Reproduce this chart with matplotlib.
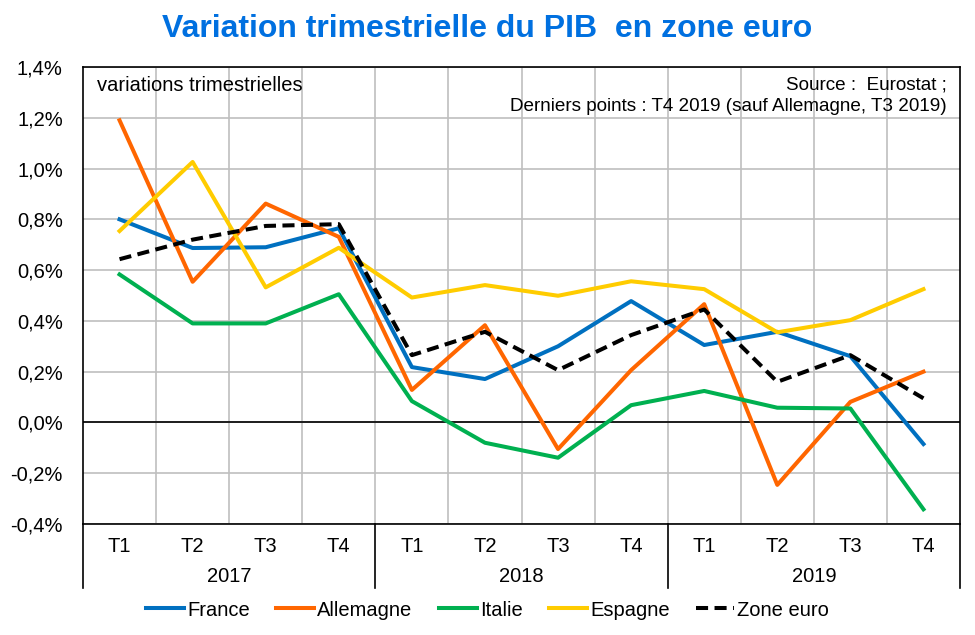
import matplotlib
matplotlib.use("Agg")
import matplotlib.pyplot as plt
from matplotlib.lines import Line2D
import matplotlib.transforms as mtransforms

plt.rcParams['font.family'] = ['Liberation Sans', 'DejaVu Sans']

quarters = ["T1", "T2", "T3", "T4"] * 3
years = ["2017", "2018", "2019"]

france = [0.80, 0.687, 0.69, 0.765, 0.218, 0.171, 0.30, 0.478, 0.305, 0.357, 0.261, -0.085]
allemagne = [1.19, 0.554, 0.862, 0.731, 0.128, 0.383, -0.105, 0.206, 0.466, -0.246, 0.081, 0.20]
italie = [0.583, 0.39, 0.39, 0.505, 0.084, -0.08, -0.139, 0.068, 0.124, 0.058, 0.055, -0.342]
espagne = [0.754, 1.026, 0.532, 0.688, 0.492, 0.541, 0.499, 0.556, 0.525, 0.355, 0.403, 0.525]
zone_euro = [0.643, 0.72, 0.774, 0.781, 0.265, 0.357, 0.206, 0.344, 0.445, 0.16, 0.265, 0.095]

series = [
    ("France", france, "#0070C0", "-"),
    ("Allemagne", allemagne, "#FF6600", "-"),
    ("Italie", italie, "#00B050", "-"),
    ("Espagne", espagne, "#FFCC00", "-"),
    ("Zone euro", zone_euro, "#000000", "--"),
]

FS = 14.5

fig = plt.figure(figsize=(9.75, 6.35), dpi=100)
L, R, T, B = 83, 960, 67, 524
W, H = 975, 635
ax = fig.add_axes([L / W, (H - B) / H, (R - L) / W, (B - T) / H])

x = list(range(len(quarters)))
for name, vals, col, ls in series:
    if ls == "--":
        ax.plot(x, vals, color=col, lw=2.9, ls=(0, (3, 1.6)), label=name, zorder=4)
    else:
        ax.plot(x, vals, color=col, lw=2.9, label=name, zorder=3)

ax.set_xlim(-0.5, len(quarters) - 0.5)
ax.set_ylim(-0.4, 1.4)
yt = [-0.4 + 0.2 * i for i in range(10)]
ax.set_yticks(yt)
ax.set_yticklabels([("%.1f%%" % v).replace(".", ",").replace("-0,0", "0,0") for v in yt], fontsize=FS)
ax.set_xticks(x)
ax.set_xticklabels(quarters, fontsize=FS)
ax.set_xticks([i + 0.5 for i in range(len(quarters) - 1)], minor=True)
ax.tick_params(axis='both', which='both', length=0)
ax.tick_params(axis='x', pad=9)
ax.tick_params(axis='y', pad=14.5)
ax.grid(True, which='major', axis='y', color='#BFBFBF', lw=1.2)
ax.grid(True, which='minor', axis='x', color='#BFBFBF', lw=1.2)
ax.set_axisbelow(True)
ax.axhline(0, color='black', lw=1.2, zorder=2)
for s in ax.spines.values():
    s.set_color('black')
    s.set_linewidth(1.2)

# year labels and separators
trans = mtransforms.blended_transform_factory(ax.transData, ax.transAxes)
sep_bottom = -(588 - B) / (B - T)
for k, yr in enumerate(years):
    ax.text(4 * k + 1.5, -(577 - B) / (B - T), yr, transform=trans, ha='center', va='center', fontsize=FS)
for k in range(len(years) + 1):
    xs = 4 * k - 0.5
    ax.add_line(Line2D([xs, xs], [0, sep_bottom], transform=trans, color='black', lw=1.2, clip_on=False))

ax.text(0.016, 0.96, "variations trimestrielles", transform=ax.transAxes, fontsize=14.5, va='center', ha='left')
ax.text(0.985, 0.98, "Source :  Eurostat ;\nDerniers points : T4 2019 (sauf Allemagne, T3 2019)",
        transform=ax.transAxes, fontsize=13.6, va='top', ha='right', linespacing=1.38)

fig.text(0.5, 1 - 29 / H, "Variation trimestrielle du PIB  en zone euro", ha='center', va='center',
         fontsize=23, color='#0070E0', fontweight='bold')

handles, labels = ax.get_legend_handles_labels()
fig.legend(handles, labels, loc='center', bbox_to_anchor=(0.5, 1 - 610 / H), ncol=5, frameon=False,
           fontsize=FS, handlelength=1.9, handletextpad=0.15, columnspacing=1.3)

fig.savefig("out.png", dpi=100, facecolor='white')
